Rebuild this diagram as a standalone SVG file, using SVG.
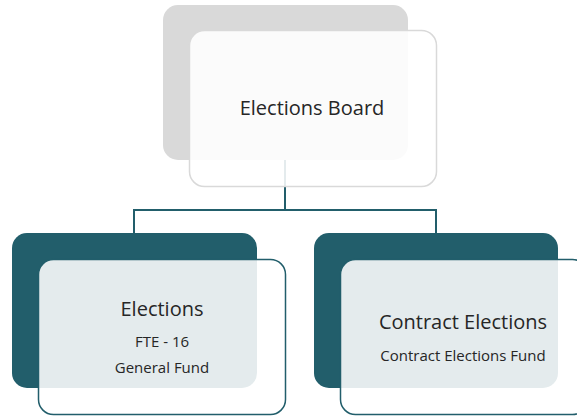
<svg xmlns="http://www.w3.org/2000/svg" width="577" height="416" viewBox="0 0 577 416">
<style>
.back-gray{fill:#d9d9d9}
.back-teal{fill:#225e6b}
.front-top{fill:#fff;fill-opacity:0.88;stroke:#d9d9d9;stroke-width:1.5}
.front{fill:#fff;fill-opacity:0.88;stroke:#225e6b;stroke-width:1.5}
.conn{fill:none;stroke:#225e6b;stroke-width:2}
.t{font-family:"Open Sans","Noto Sans",sans-serif;fill:#262626;text-anchor:middle}
.title{font-size:20px}
.sub{font-size:15px}
</style>
<rect width="577" height="416" fill="#fff"/>
<g id="back-shapes">
<rect class="back-gray" x="163" y="5" width="245" height="155" rx="15"/>
<rect class="back-teal" x="12" y="233" width="245" height="155" rx="15"/>
<rect class="back-teal" x="314" y="233" width="244" height="155" rx="15"/>
</g>
<g id="connectors">
<path class="conn" d="M285,160 V210 M134,233 V210 H436 V233"/>
</g>
<g id="node-board">
<rect class="front-top" x="189.5" y="30.5" width="247" height="156" rx="15"/>
<text class="t title" x="312" y="115">Elections Board</text>
</g>
<g id="node-elections">
<rect class="front" x="38.5" y="259.5" width="247" height="155" rx="15"/>
<text class="t title" x="162" y="316">Elections</text>
<text class="t sub" x="162" y="347">FTE - 16</text>
<text class="t sub" x="162" y="373">General Fund</text>
</g>
<g id="node-contract">
<rect class="front" x="340.5" y="259.5" width="247" height="155" rx="15"/>
<text class="t title" x="463" y="329">Contract Elections</text>
<text class="t sub" x="463" y="361">Contract Elections Fund</text>
</g>
</svg>
